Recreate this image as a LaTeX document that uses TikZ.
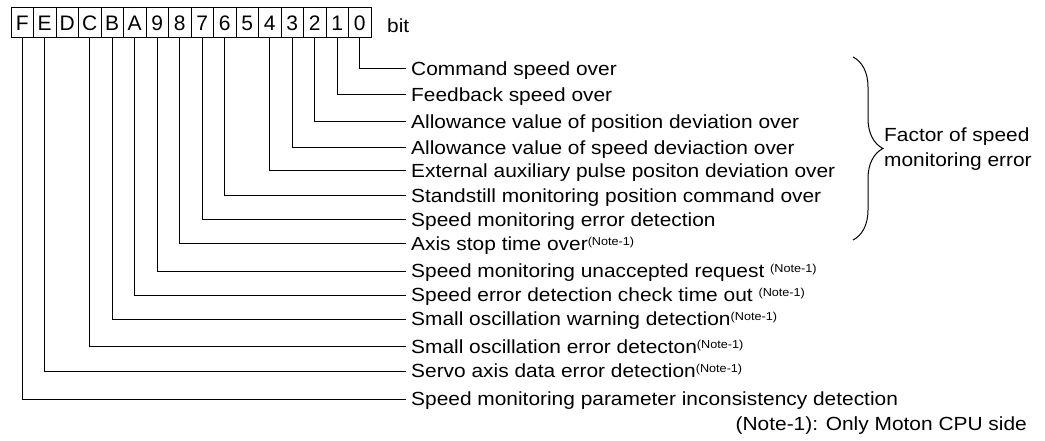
\documentclass[tikz,border=0pt]{standalone}
\usepackage{fontspec}
\setmainfont{Liberation Sans}
\newfontfamily\labelfont[FakeStretch=1.1]{Liberation Sans}
\usetikzlibrary{decorations.pathreplacing}

\newcommand{\noteone}{\raisebox{5pt}{\fontsize{11.5}{11.5}\selectfont(Note-1)}}

\begin{document}
\begin{tikzpicture}[x=1pt, y=-1pt,
  cell/.style={draw, line width=1pt, minimum width=22.5pt, minimum height=30pt, inner sep=0pt, font=\fontsize{21}{21}\selectfont},
  lbl/.style={anchor=west, inner xsep=5pt, inner ysep=0pt, text height=13.4pt, text depth=0pt, font=\labelfont\fontsize{19}{22}\selectfont},
  wire/.style={line width=1pt}]
\useasboundingbox (0,0) rectangle (1045,441);

\foreach \b [count=\i from 0] in {F,E,D,C,B,A,9,8,7,6,5,4,3,2,1,0}
  \node[cell] (b\b) at (22.25+22.5*\i, 23) {\b};
\node[anchor=base west, inner sep=0pt, font=\labelfont\fontsize{19}{22}\selectfont] (bit) at (387,33) {bit};

\node[lbl] (l0) at (406,69) {Command speed over};
\node[lbl] (l1) at (406,95) {Feedback speed over};
\node[lbl] (l2) at (406,121.7) {Allowance value of position deviation over};
\node[lbl] (l3) at (406,147.7) {Allowance value of speed deviaction over};
\node[lbl] (l4) at (406,171) {External auxiliary pulse positon deviation over};
\node[lbl] (l6) at (406,195.7) {Standstill monitoring position command over};
\node[lbl] (l7) at (406,219.3) {Speed monitoring error detection};
\node[lbl] (l8) at (406,243.3) {Axis stop time over\noteone};
\node[lbl] (l9) at (406,271) {Speed monitoring unaccepted request \noteone};
\node[lbl] (lA) at (406,295) {Speed error detection check time out \noteone};
\node[lbl] (lB) at (406,319) {Small oscillation warning detection\noteone};
\node[lbl] (lC) at (406,346.7) {Small oscillation error detecton\noteone};
\node[lbl] (lE) at (406,371) {Servo axis data error detection\noteone};
\node[lbl] (lF) at (406,399) {Speed monitoring parameter inconsistency detection};

\draw[wire] (b0.south) |- (l0.west);
\draw[wire] (b1.south) |- (l1.west);
\draw[wire] (b2.south) |- (l2.west);
\draw[wire] (b3.south) |- (l3.west);
\draw[wire] (b4.south) |- (l4.west);
\draw[wire] (b6.south) |- (l6.west);
\draw[wire] (b7.south) |- (l7.west);
\draw[wire] (b8.south) |- (l8.west);
\draw[wire] (b9.south) |- (l9.west);
\draw[wire] (bA.south) |- (lA.west);
\draw[wire] (bB.south) |- (lB.west);
\draw[wire] (bC.south) |- (lC.west);
\draw[wire] (bE.south) |- (lE.west);
\draw[wire] (bF.south) |- (lF.west);

% brace over bits 0-8
\coordinate (bracetop) at (853,57);
\coordinate (bracebot) at (853,240);
\draw[wire, decorate, decoration={brace, amplitude=30pt}] (bracetop) -- (bracebot);
\node[anchor=west, align=left, inner sep=0pt, font=\labelfont\fontsize{19}{25}\selectfont] (factor) at (884,149) {Factor of speed\\monitoring error};

\node[anchor=base east, inner sep=0pt, font=\labelfont\fontsize{19}{22}\selectfont] (note) at (1027,430) {(Note-1): Only Moton CPU side};
\end{tikzpicture}
\end{document}
